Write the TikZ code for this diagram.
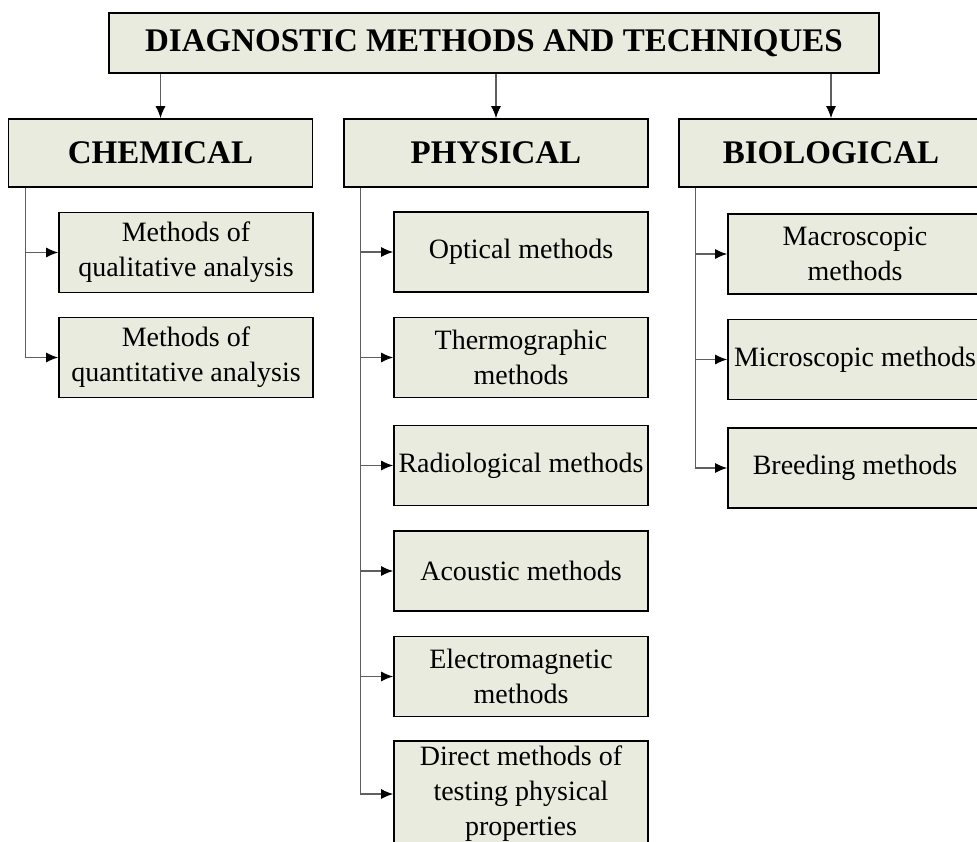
\documentclass[tikz,border=0pt]{standalone}
\usepackage{fontspec}
\setmainfont{Liberation Serif}
\usepackage{xcolor}
\usepackage{tikz}
\usetikzlibrary{arrows.meta,calc,positioning}
\definecolor{boxfill}{RGB}{232,235,221}
\definecolor{linegray}{RGB}{95,95,95}
\tikzset{
  box/.style={draw=black, line width=1.8pt, fill=boxfill, inner sep=0pt, align=center,
    font=\fontsize{28}{35}\selectfont},
  head/.style={box, font=\bfseries\fontsize{33}{40}\selectfont, minimum width=304pt, minimum height=68pt},
  sub/.style={box, minimum width=254pt, minimum height=80pt},
  link/.style={draw=linegray, line width=1.1pt, -{Latex[length=12pt,width=10pt,color=black]}}
}

\begin{document}
\begin{tikzpicture}[x=1pt,y=-1pt]
  \clip (0,0) rectangle (977,842);
  \path
    (494,43) node[head, minimum width=770pt, minimum height=60pt] (top) {DIAGNOSTIC METHODS AND TECHNIQUES}
    (160.5,153) node[head] (chem) {CHEMICAL}
    (496,153) node[head] (phys) {PHYSICAL}
    (831,153) node[head] (bio) {BIOLOGICAL}
    % chemical
    (186,252.5) node[sub] (qual) {Methods of\\qualitative analysis}
    (186,357.5) node[sub] (quant) {Methods of\\quantitative analysis}
    % physical
    (521,252) node[sub] (optic) {Optical methods}
    (521,357.5) node[sub] (thermo) {Thermographic\\methods}
    (521,465.5) node[sub] (radio) {Radiological methods}
    (521,571) node[sub] (acoust) {Acoustic methods}
    (521,676.5) node[sub] (elmag) {Electromagnetic\\methods}
    (521,794) node[sub, minimum height=106pt] (direct) {Direct methods of\\testing physical\\properties}
    % biological
    (855,254) node[sub] (macro) {Macroscopic\\methods}
    (855,359.5) node[sub] (micro) {Microscopic methods}
    (855,468) node[sub] (breed) {Breeding methods};

  \draw[link] (top.south -| chem.north) -- (chem.north);
  \draw[link] (top.south -| phys.north) -- (phys.north);
  \draw[link] (top.south -| bio.north) -- (bio.north);

  \coordinate (ctrunk) at ($(chem.south west)+(18,0)$);
  \coordinate (ptrunk) at ($(phys.south west)+(17,0)$);
  \coordinate (btrunk) at ($(bio.south west)+(17,0)$);

  \draw[link] (ctrunk) |- (qual.west);
  \draw[link] (ctrunk) |- (quant.west);
  \draw[link] (ptrunk) |- (optic.west);
  \draw[link] (ptrunk) |- (thermo.west);
  \draw[link] (ptrunk) |- (radio.west);
  \draw[link] (ptrunk) |- (acoust.west);
  \draw[link] (ptrunk) |- (elmag.west);
  \draw[link] (ptrunk) |- (direct.west);
  \draw[link] (btrunk) |- (macro.west);
  \draw[link] (btrunk) |- (micro.west);
  \draw[link] (btrunk) |- (breed.west);
\end{tikzpicture}
\end{document}
